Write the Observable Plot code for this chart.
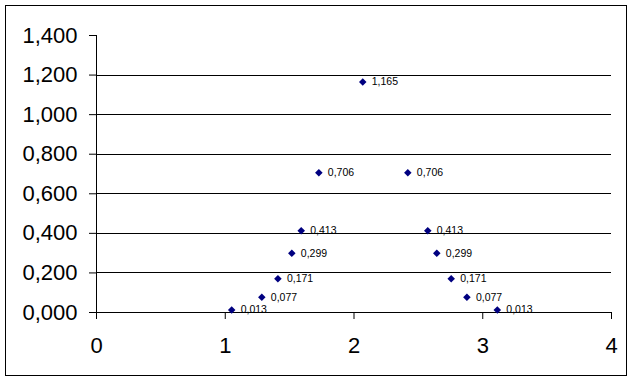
<!DOCTYPE html>
<html>
<head>
<meta charset="utf-8">
<script src="https://cdn.jsdelivr.net/npm/d3@7"></script>
<script src="https://cdn.jsdelivr.net/npm/@observablehq/plot@0.6"></script>
<style>
  html, body { margin: 0; padding: 0; background: #fff; }
  #wrap { position: relative; width: 637px; height: 381px; overflow: hidden; }
  #border { position: absolute; left: 5px; top: 5px; width: 620px; height: 369px; border: 1px solid #000; pointer-events: none; }
  svg { font-family: "Liberation Sans", Arial, sans-serif; }
  svg line { shape-rendering: crispEdges; }
  svg path[aria-label] { shape-rendering: crispEdges; }
  svg g[aria-label="dot"] path { shape-rendering: auto; }
</style>
</head>
<body>
<div id="wrap"><div id="border"></div></div>
<script>
// Data
const xValues = [1.05, 1.284, 1.409, 1.517, 1.59, 1.727, 2.068, 2.418, 2.573, 2.643, 2.755, 2.877, 3.113];
const yValues = [0.013, 0.077, 0.171, 0.299, 0.413, 0.706, 1.165, 0.706, 0.413, 0.299, 0.171, 0.077, 0.013];
const xTicks = [0, 1, 2, 3, 4];
const yTicks = [0, 0.2, 0.4, 0.6, 0.8, 1.0, 1.2, 1.4];
const gridValues = [0.2, 0.4, 0.6, 0.8, 1.0, 1.2];

const points = xValues.map((x, i) => ({x, y: yValues[i]}));
const loc = d3.formatLocale({decimal: ",", thousands: ".", grouping: [3], currency: ["", ""]});
const fmt3 = loc.format(",.3f");

const chart = Plot.plot({
  width: 637,
  height: 381,
  marginTop: 35,
  marginLeft: 96,
  marginRight: 26,
  marginBottom: 69,
  style: {fontFamily: '"Liberation Sans", Arial, sans-serif', background: "transparent", overflow: "visible"},
  x: {domain: [0, 4]},
  y: {domain: [0, 1.4]},
  marks: [
    Plot.ruleY(gridValues, {x1: 0, x2: 4, stroke: "#000", strokeWidth: 1}),
    Plot.ruleY([0], {x1: 0, x2: 4, stroke: "#000", strokeWidth: 1}),
    Plot.ruleX([0], {y1: 0, y2: 1.4, stroke: "#000", strokeWidth: 1}),
    Plot.axisY({ticks: yTicks, tickSize: 7, tickPadding: 12, tickFormat: fmt3, fontSize: 22, color: "#000", label: null, stroke: "#000", strokeOpacity: 1}),
    Plot.axisX({ticks: xTicks, tickSize: 7, tickPadding: 18, tickFormat: d => String(d), fontSize: 22, color: "#000", label: null, stroke: "#000", strokeOpacity: 1}),
    Plot.dot(points, {x: "x", y: "y", symbol: "diamond2", r: 3.4, fill: "#000080", stroke: "none"}),
    Plot.text(points, {x: "x", y: "y", text: d => fmt3(d.y), dx: 9, textAnchor: "start", fontSize: 10.5, fill: "#000"})
  ]
});
document.getElementById("wrap").prepend(chart);
</script>
</body>
</html>
